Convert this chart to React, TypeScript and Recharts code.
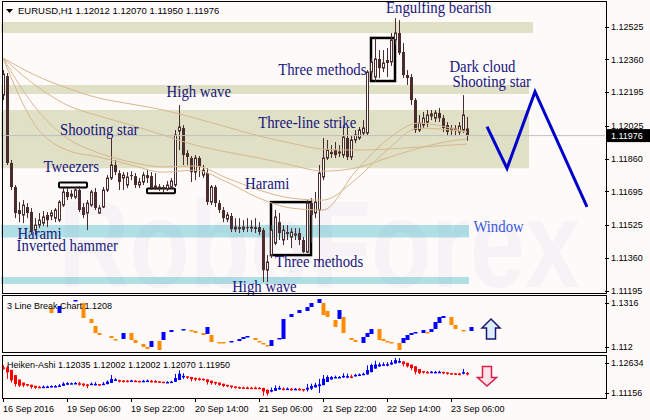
import React from 'react';
import { ComposedChart, Bar, Line, XAxis, YAxis, ReferenceArea, ReferenceLine, ReferenceDot } from 'recharts';

const BG = '#FFFAFA';
const CANDLE = '#4B2C2C';
const SANS = "'Liberation Sans', Arial, sans-serif";
const SERIF = "'Liberation Serif', 'Times New Roman', serif";
const BAND = 4;
const SLOTS = 151;

const SYMBOL = 'EURUSD,H1';
const LB_TITLE = '3 Line Break Chart 1.1208';
const HA_TITLE = 'Heiken-Ashi 1.12035 1.12002 1.12002 1.12070 1.11950';

// H1 candles, 16 Sep 14:00 .. 23 Sep 10:00
const openP = [
  1.12180, 1.12276, 1.11838, 1.11717, 1.11601, 1.11576, 1.11616, 1.11591, 1.11500, 1.11525,
  1.11535, 1.11576, 1.11571, 1.11560, 1.11550, 1.11626, 1.11692, 1.11671, 1.11666, 1.11702,
  1.11616, 1.11586, 1.11626, 1.11692, 1.11586, 1.11616, 1.11702, 1.11762, 1.11828, 1.11787,
  1.11762, 1.11727, 1.11777, 1.11772, 1.11727, 1.11742, 1.11777, 1.11772, 1.11712, 1.11712,
  1.11717, 1.11707, 1.11717, 1.11727, 1.11999, 1.12014, 1.11888, 1.11863, 1.11792, 1.11863,
  1.11777, 1.11787, 1.11641, 1.11717, 1.11636, 1.11601, 1.11555, 1.11571, 1.11505, 1.11515,
  1.11505, 1.11515, 1.11510, 1.11515, 1.11515, 1.11500, 1.11298, 1.11374, 1.11434, 1.11540,
  1.11450, 1.11490, 1.11465, 1.11475, 1.11485, 1.11450, 1.11389, 1.11636, 1.11586, 1.11601,
  1.11767, 1.11863, 1.11893, 1.11903, 1.11888, 1.11878, 1.11964, 1.11868, 1.11954, 1.11964,
  1.11989, 1.11989, 1.12296, 1.12271, 1.12362, 1.12316, 1.12357, 1.12347, 1.12458, 1.12493,
  1.12397, 1.12281, 1.12271, 1.12155, 1.12004, 1.12029, 1.12044, 1.12075, 1.12064, 1.12090,
  1.12064, 1.12029, 1.12014, 1.12004, 1.11994, 1.12004, 1.12012,
];
const highP = [
  1.12306, 1.12291, 1.11853, 1.11727, 1.11641, 1.11651, 1.11636, 1.11611, 1.11560, 1.11586,
  1.11596, 1.11591, 1.11601, 1.11611, 1.11651, 1.11712, 1.11712, 1.11702, 1.11717, 1.11722,
  1.11636, 1.11651, 1.11702, 1.11712, 1.11626, 1.11717, 1.11777, 1.11964, 1.11853, 1.11802,
  1.11792, 1.11792, 1.11797, 1.11787, 1.11762, 1.11792, 1.11802, 1.11792, 1.11787, 1.11732,
  1.11727, 1.11747, 1.11762, 1.12004, 1.12130, 1.12029, 1.11903, 1.11873, 1.11878, 1.11873,
  1.11828, 1.11812, 1.11727, 1.11727, 1.11651, 1.11616, 1.11591, 1.11586, 1.11560, 1.11560,
  1.11550, 1.11560, 1.11550, 1.11560, 1.11540, 1.11510, 1.11374, 1.11525, 1.11601, 1.11586,
  1.11525, 1.11525, 1.11510, 1.11510, 1.11510, 1.11465, 1.11651, 1.11661, 1.11692, 1.11828,
  1.11964, 1.11954, 1.11928, 1.11944, 1.11928, 1.12029, 1.12014, 1.11979, 1.12004, 1.12019,
  1.12054, 1.12306, 1.12367, 1.12468, 1.12407, 1.12407, 1.12417, 1.12493, 1.12568, 1.12558,
  1.12442, 1.12306, 1.12286, 1.12165, 1.12080, 1.12095, 1.12105, 1.12105, 1.12105, 1.12115,
  1.12080, 1.12044, 1.12029, 1.12029, 1.12044, 1.12180, 1.12070,
];
const lowP = [
  1.12155, 1.11828, 1.11702, 1.11560, 1.11540, 1.11535, 1.11560, 1.11480, 1.11475, 1.11510,
  1.11520, 1.11515, 1.11550, 1.11540, 1.11540, 1.11616, 1.11651, 1.11656, 1.11656, 1.11591,
  1.11560, 1.11500, 1.11616, 1.11601, 1.11581, 1.11611, 1.11692, 1.11752, 1.11777, 1.11702,
  1.11702, 1.11712, 1.11752, 1.11712, 1.11712, 1.11727, 1.11737, 1.11702, 1.11702, 1.11697,
  1.11686, 1.11697, 1.11707, 1.11717, 1.11903, 1.11828, 1.11828, 1.11742, 1.11752, 1.11767,
  1.11762, 1.11626, 1.11626, 1.11616, 1.11586, 1.11540, 1.11540, 1.11490, 1.11490, 1.11485,
  1.11490, 1.11490, 1.11490, 1.11485, 1.11475, 1.11238, 1.11238, 1.11359, 1.11424, 1.11450,
  1.11424, 1.11450, 1.11409, 1.11450, 1.11424, 1.11384, 1.11384, 1.11434, 1.11560, 1.11334,
  1.11752, 1.11853, 1.11863, 1.11863, 1.11868, 1.11863, 1.11853, 1.11853, 1.11938, 1.11954,
  1.11974, 1.11979, 1.12256, 1.12246, 1.12266, 1.12296, 1.12271, 1.12327, 1.12432, 1.12382,
  1.12266, 1.12231, 1.12130, 1.11989, 1.11994, 1.12014, 1.12019, 1.12054, 1.12044, 1.12044,
  1.11994, 1.11974, 1.11979, 1.11974, 1.11979, 1.11989, 1.11950,
];
const closeP = [
  1.12286, 1.11838, 1.11717, 1.11586, 1.11581, 1.11626, 1.11586, 1.11495, 1.11525, 1.11550,
  1.11566, 1.11550, 1.11586, 1.11601, 1.11641, 1.11692, 1.11666, 1.11681, 1.11702, 1.11601,
  1.11576, 1.11636, 1.11692, 1.11611, 1.11611, 1.11702, 1.11762, 1.11828, 1.11792, 1.11742,
  1.11777, 1.11767, 1.11772, 1.11727, 1.11742, 1.11777, 1.11762, 1.11712, 1.11722, 1.11717,
  1.11707, 1.11727, 1.11747, 1.11979, 1.12019, 1.11878, 1.11868, 1.11792, 1.11863, 1.11818,
  1.11802, 1.11641, 1.11717, 1.11636, 1.11601, 1.11560, 1.11576, 1.11505, 1.11515, 1.11505,
  1.11515, 1.11510, 1.11515, 1.11505, 1.11490, 1.11298, 1.11339, 1.11500, 1.11566, 1.11485,
  1.11500, 1.11480, 1.11490, 1.11480, 1.11450, 1.11389, 1.11636, 1.11576, 1.11641, 1.11787,
  1.11863, 1.11903, 1.11883, 1.11878, 1.11893, 1.11969, 1.11868, 1.11954, 1.11979, 1.12004,
  1.12014, 1.12296, 1.12347, 1.12362, 1.12316, 1.12342, 1.12342, 1.12458, 1.12493, 1.12392,
  1.12281, 1.12266, 1.12155, 1.12004, 1.12039, 1.12064, 1.12080, 1.12085, 1.12090, 1.12064,
  1.12014, 1.11994, 1.12004, 1.12009, 1.12024, 1.12080, 1.11976,
];

// moving averages sampled at bar indices
const maIdx = [0, 8, 16, 24, 32, 40, 48, 56, 64, 72, 80, 88, 96, 104, 112, 116];
const maA = [1.12367, 1.12281, 1.12216, 1.12165, 1.12135, 1.12105, 1.12064, 1.12019, 1.11974, 1.11938, 1.11908, 1.11903, 1.11908, 1.11918, 1.11928, 1.11933];
const maB = [1.12367, 1.12231, 1.12130, 1.12075, 1.12029, 1.11979, 1.11928, 1.11893, 1.11863, 1.11828, 1.11797, 1.11812, 1.11863, 1.11913, 1.11949, 1.11959];
const maC = [1.12367, 1.12120, 1.11964, 1.11888, 1.11843, 1.11818, 1.11823, 1.11762, 1.11702, 1.11661, 1.11651, 1.11752, 1.11903, 1.12014, 1.12004, 1.11994];
const maD = [1.12367, 1.12029, 1.11903, 1.11868, 1.11828, 1.11792, 1.11802, 1.11742, 1.11661, 1.11611, 1.11601, 1.11792, 1.11954, 1.12039, 1.12014, 1.11994];

// forecast zig-zag
const fcIdx = [121, 126, 133, 146];
const fcPrice = [1.12021, 1.11811, 1.12197, 1.11617];

// 3 line break bricks
const lbIdx = [12, 14, 18, 20, 22, 23, 24, 27, 28, 30, 32, 33, 35, 36, 37, 39, 40, 42, 45, 47, 48, 50, 51, 52, 54, 55, 57, 59, 60, 61, 63, 64, 65, 66, 67, 69, 70, 72, 74, 76, 77, 79, 80, 81, 83, 84, 85, 87, 88, 90, 91, 92, 94, 95, 96, 97, 99, 100, 101, 102, 103, 105, 106, 107, 108, 109, 110, 112, 113, 115, 117];
const lbHigh = [1.12948, 1.13038, 1.13309, 1.13174, 1.12450, 1.12134, 1.11818, 1.11682, 1.11546, 1.11818, 1.11818, 1.11501, 1.11320, 1.11185, 1.11456, 1.11456, 1.11863, 1.11953, 1.11998, 1.11953, 1.11908, 1.11818, 1.12089, 1.11727, 1.11411, 1.11411, 1.11456, 1.11546, 1.11637, 1.11682, 1.11592, 1.11456, 1.11366, 1.11275, 1.11501, 1.11592, 1.12450, 1.12676, 1.12857, 1.12993, 1.13174, 1.13354, 1.13174, 1.12812, 1.12405, 1.12857, 1.12541, 1.11592, 1.11501, 1.11637, 1.11818, 1.11998, 1.11998, 1.11546, 1.11456, 1.11411, 1.11366, 1.11592, 1.11727, 1.11818, 1.11863, 1.11953, 1.11863, 1.11998, 1.12315, 1.12541, 1.12586, 1.12541, 1.12179, 1.11953, 1.12089];
const lbLow = [1.12722, 1.12722, 1.13264, 1.12496, 1.12270, 1.11818, 1.11727, 1.11592, 1.11501, 1.11546, 1.11501, 1.11366, 1.11185, 1.11094, 1.11185, 1.11049, 1.11501, 1.11863, 1.11953, 1.11908, 1.11818, 1.11727, 1.11772, 1.11411, 1.11366, 1.11366, 1.11411, 1.11456, 1.11546, 1.11637, 1.11501, 1.11411, 1.11320, 1.11230, 1.11230, 1.11546, 1.11546, 1.12541, 1.12722, 1.12812, 1.12993, 1.13174, 1.12631, 1.12541, 1.12089, 1.12450, 1.11818, 1.11501, 1.11411, 1.11366, 1.11637, 1.11772, 1.11501, 1.11456, 1.11411, 1.11366, 1.11049, 1.11366, 1.11501, 1.11727, 1.11818, 1.11818, 1.11818, 1.11863, 1.11998, 1.12270, 1.12496, 1.12179, 1.11998, 1.11908, 1.11908];
const lbDir = ['d', 'u', 'u', 'd', 'd', 'd', 'd', 'd', 'd', 'u', 'd', 'd', 'd', 'd', 'u', 'd', 'u', 'u', 'u', 'd', 'd', 'd', 'u', 'd', 'd', 'd', 'u', 'u', 'u', 'u', 'd', 'd', 'd', 'd', 'u', 'u', 'u', 'u', 'u', 'u', 'u', 'u', 'd', 'd', 'd', 'u', 'd', 'd', 'd', 'u', 'u', 'u', 'd', 'd', 'd', 'd', 'd', 'u', 'u', 'u', 'u', 'u', 'd', 'u', 'u', 'u', 'u', 'd', 'd', 'd', 'u'];

// signal arrows [bar, value]
const lbSignal = [122, 1.11998];
const haSignal = [121, 1.11912];

// axes
const xTickIdx = [0, 16, 32, 48, 64, 80, 96, 112];
const xTickLabels = ['16 Sep 2016', '19 Sep 06:00', '19 Sep 22:00', '20 Sep 14:00', '21 Sep 06:00', '21 Sep 22:00', '22 Sep 14:00', '23 Sep 06:00'];
const priceTicks = [1.12525, 1.12360, 1.12195, 1.12025, 1.11860, 1.11695, 1.11525, 1.11360, 1.11195];
const lbTicks = [1.1316, 1.112];
const haTicks = [1.12634, 1.11156];

// zones
const khakiZones = [
  { to: 132, lo: 1.12493, hi: 1.12548 },
  { to: 131, lo: 1.12185, hi: 1.12231 },
  { to: 131, lo: 1.11812, hi: 1.12105 },
];
const cyanZones = [
  { to: 116, lo: 1.11462, hi: 1.11525 },
  { to: 116, lo: 1.11228, hi: 1.11263 },
];
const boxes = [
  { from: 92, to: 98, lo: 1.12251, hi: 1.12468, small: false },
  { from: 67, to: 77, lo: 1.11374, hi: 1.11641, small: false },
  { from: 14, to: 21, lo: 1.11715, hi: 1.11740, small: true },
  { from: 36, to: 43, lo: 1.11685, hi: 1.11710, small: true },
];
const annotations = [
  { text: 'Engulfing bearish', bar: 95.75, price: 1.12594, light: false },
  { text: 'Three methods', bar: 68.8, price: 1.12281, light: false },
  { text: 'Dark cloud', bar: 111.6, price: 1.12298, light: false },
  { text: 'Shooting star', bar: 112.4, price: 1.12219, light: false },
  { text: 'High wave', bar: 40.9, price: 1.12169, light: false },
  { text: 'Shooting star', bar: 14.25, price: 1.11979, light: false },
  { text: 'Three-line strike', bar: 63.8, price: 1.12013, light: false },
  { text: 'Tweezers', bar: 10.1, price: 1.11791, light: false },
  { text: 'Harami', bar: 60.5, price: 1.11707, light: false },
  { text: 'Window', bar: 117.6, price: 1.11491, light: true },
  { text: 'Harami', bar: 3.6, price: 1.11455, light: false },
  { text: 'Inverted hammer', bar: 3.4, price: 1.11394, light: false },
  { text: 'Three methods', bar: 68, price: 1.11312, light: false },
  { text: 'High wave', bar: 57.3, price: 1.11189, light: false },
];

// ---------- tables built from the arrays ----------
const rows: any[] = Array.from({ length: SLOTS }, (_, i) => ({ i }));
openP.forEach((o, i) => {
  Object.assign(rows[i], { o, h: highP[i], l: lowP[i], c: closeP[i], range: [lowP[i], highP[i]] });
});
maIdx.forEach((idx, k) => Object.assign(rows[idx], { maA: maA[k], maB: maB[k], maC: maC[k], maD: maD[k] }));
fcIdx.forEach((idx, k) => { rows[idx].fc = fcPrice[k]; });

const lbRows: any[] = Array.from({ length: SLOTS }, (_, i) => ({ i }));
lbIdx.forEach((idx, k) => Object.assign(lbRows[idx], { lbRange: [lbLow[k], lbHigh[k]], lbUp: lbDir[k] === 'u' }));

const haRows: any[] = Array.from({ length: SLOTS }, (_, i) => ({ i }));
let pO = 0;
let pC = 0;
openP.forEach((o, i) => {
  const h = highP[i], l = lowP[i], c = closeP[i];
  const hc = (o + h + l + c) / 4;
  const ho = i === 0 ? (o + c) / 2 : (pO + pC) / 2;
  const hh = Math.max(h, ho, hc);
  const hl = Math.min(l, ho, hc);
  Object.assign(haRows[i], { ho, hc, hh, hl, haRange: [hl, hh] });
  pO = ho;
  pC = hc;
});

// ---------- shapes ----------
const CandleShape = (props: any) => {
  const { x, y, width, height, payload } = props;
  if (!payload || payload.o == null || x == null) return null;
  const cx = Math.round(x + width / 2);
  const top = Math.min(y, y + height);
  const bottom = Math.max(y, y + height);
  const { o, c, h, l } = payload;
  const span = h - l || 1e-9;
  const py = (v: number) => top + ((h - v) / span) * (bottom - top);
  const bTop = py(Math.max(o, c));
  const bBot = py(Math.min(o, c));
  const bull = c >= o;
  return (
    <g>
      <line x1={cx + 0.5} x2={cx + 0.5} y1={top} y2={bottom} stroke={CANDLE} strokeWidth={1} />
      {bull ? (
        <rect x={cx - 0.5} y={bTop} width={2} height={Math.max(bBot - bTop, 1)} fill={BG} stroke={CANDLE} strokeWidth={1} />
      ) : (
        <rect x={cx - 1} y={bTop} width={3} height={Math.max(bBot - bTop, 1)} fill={CANDLE} />
      )}
    </g>
  );
};

const BrickShape = (props: any) => {
  const { x, y, width, height, payload } = props;
  if (!payload || !payload.lbRange || x == null) return null;
  const top = Math.min(y, y + height);
  const hgt = Math.max(Math.abs(height), 1.5);
  const cx = Math.round(x + width / 2);
  return <rect x={cx - 1.5} y={top} width={4} height={hgt} fill={payload.lbUp ? '#0000FF' : '#FF8C00'} />;
};

const HAShape = (props: any) => {
  const { x, y, width, height, payload } = props;
  if (!payload || payload.ho == null || x == null) return null;
  const cx = Math.round(x + width / 2);
  const top = Math.min(y, y + height);
  const bottom = Math.max(y, y + height);
  const { ho, hc, hh, hl } = payload;
  const span = hh - hl || 1e-9;
  const py = (v: number) => top + ((hh - v) / span) * (bottom - top);
  const bTop = py(Math.max(ho, hc));
  const bBot = py(Math.min(ho, hc));
  const col = hc >= ho ? '#0000FF' : '#FF0000';
  return (
    <g>
      <line x1={cx + 0.5} x2={cx + 0.5} y1={top} y2={bottom} stroke={col} strokeWidth={1} />
      <rect x={cx - 1} y={bTop} width={3} height={Math.max(bBot - bTop, 1.5)} fill={col} />
    </g>
  );
};

// right-axis tick; edge ticks (panel max/min) are drawn inset from the panel edge like MT4
const RightTick = (props: any) => {
  const { x, y, payload, digits, edges } = props;
  const label = digits ? Number(payload.value).toFixed(digits) : String(payload.value);
  let yy = y;
  if (edges) {
    if (payload.value === edges[1]) yy = y + 7;
    if (payload.value === edges[0]) yy = y - 5;
  }
  const ly = Math.round(yy) + 0.5;
  return (
    <g>
      <line x1={x} x2={x + 4} y1={ly} y2={ly} stroke="#000" strokeWidth={1} />
      <text x={x + 6} y={yy} dy="0.35em" fontSize={9} fontFamily={SANS} fill="#000">{label}</text>
    </g>
  );
};

const BottomTick = (props: any) => {
  const { x, y, payload } = props;
  const k = xTickIdx.indexOf(payload.value);
  const tx = Math.round(x) + 0.5;
  return (
    <g>
      <line x1={tx} x2={tx} y1={y + 1} y2={y + 4} stroke="#000" strokeWidth={1} />
      <text x={x} y={y + 14} fontSize={9} fontFamily={SANS} fill="#000">{k >= 0 ? xTickLabels[k] : ''}</text>
    </g>
  );
};

const PriceTag = (props: any) => {
  const vb = props.viewBox || {};
  const x = (vb.x || 0) + (vb.width || 0) + 1;
  const y = vb.y || 0;
  return (
    <g>
      <rect x={x} y={y - 6.5} width={44} height={13} fill="#000" />
      <text x={x + 5} y={y + 3.5} fontSize={9} fontFamily={SANS} fill="#fff">{closeP[closeP.length - 1].toFixed(5)}</text>
    </g>
  );
};

const UpArrow = (p: any) => {
  const { cx, cy } = p;
  const d = `M${cx},${cy - 10} L${cx + 9},${cy - 1} L${cx + 4.5},${cy - 1} L${cx + 4.5},${cy + 10} L${cx - 4.5},${cy + 10} L${cx - 4.5},${cy - 1} L${cx - 9},${cy - 1} Z`;
  return <path d={d} fill="#DCEEFF" stroke="#1A1A70" strokeWidth={1.5} />;
};

const DownArrow = (p: any) => {
  const { cx, cy } = p;
  const d = `M${cx - 4.5},${cy - 10} L${cx + 4.5},${cy - 10} L${cx + 4.5},${cy + 1} L${cx + 9.5},${cy + 1} L${cx},${cy + 9.5} L${cx - 9.5},${cy + 1} L${cx - 4.5},${cy + 1} Z`;
  return <path d={d} fill="#FFE4EA" stroke="#D81E48" strokeWidth={1.5} />;
};

const annotationShape = (a: any) => (p: any) => {
  const dx = (a.bar - Math.floor(a.bar)) * BAND;
  return (
    <text
      transform={`translate(${p.cx + dx},${p.cy}) scale(0.87,1)`}
      x={0}
      y={0}
      fontFamily={SERIF}
      fontSize={17}
      fill={a.light ? '#3A5BE0' : '#16167A'}
    >
      {a.text}
    </text>
  );
};

const boxShape = (small: boolean) => (p: any) => (
  <rect
    x={p.x + BAND / 2}
    y={p.y}
    width={Math.max(p.width - BAND, 1)}
    height={Math.max(p.height, 1)}
    fill="none"
    stroke="#000"
    strokeWidth={small ? 2 : 2.5}
    rx={small ? 1 : 0}
  />
);

export default function App() {
  const header = `${SYMBOL}  ${openP[openP.length - 1].toFixed(5)} ${highP[highP.length - 1].toFixed(5)} ${lowP[lowP.length - 1].toFixed(5)} ${closeP[closeP.length - 1].toFixed(5)}`;
  const haDomain = [haTicks[1], haTicks[0]];
  return (
    <div style={{ position: 'fixed', left: 0, top: 0, width: 650, height: 420, background: BG, overflow: 'hidden' }}>
      <div style={{ position: 'absolute', left: 0, top: 0 }}>
        <ComposedChart width={650} height={296} data={rows} margin={{ top: 5, right: 0, bottom: 3, left: 1 }}>
          <XAxis dataKey="i" type="category" hide />
          <YAxis
            orientation="right"
            width={45}
            domain={[1.11183, 1.12634]}
            allowDataOverflow
            ticks={priceTicks}
            interval={0}
            tickSize={0}
            tickMargin={0}
            tickLine={false}
            axisLine={false}
            tick={<RightTick digits={5} />}
          />
          {khakiZones.map((z, k) => (
            <ReferenceArea key={`kz${k}`} x1={0} x2={z.to} y1={z.lo} y2={z.hi} fill="#E0E0C6" fillOpacity={1} stroke="none" />
          ))}
          {cyanZones.map((z, k) => (
            <ReferenceArea key={`cz${k}`} x1={0} x2={z.to} y1={z.lo} y2={z.hi} fill="#B0E0E6" fillOpacity={1} stroke="none" />
          ))}
          <ReferenceLine y={closeP[closeP.length - 1]} stroke="#C0C0C0" strokeWidth={1} label={(p: any) => <PriceTag {...p} />} />
          <Line dataKey="maA" type="monotone" stroke="#D6B88E" strokeWidth={1} dot={false} connectNulls isAnimationActive={false} />
          <Line dataKey="maB" type="monotone" stroke="#D6B88E" strokeWidth={1} dot={false} connectNulls isAnimationActive={false} />
          <Line dataKey="maC" type="monotone" stroke="#D6B88E" strokeWidth={1} dot={false} connectNulls isAnimationActive={false} />
          <Line dataKey="maD" type="monotone" stroke="#D6B88E" strokeWidth={1} dot={false} connectNulls isAnimationActive={false} />
          <Bar dataKey="range" barSize={4} shape={CandleShape} isAnimationActive={false} />
          {boxes.map((b, k) => (
            <ReferenceArea key={`bx${k}`} x1={b.from} x2={b.to} y1={b.lo} y2={b.hi} shape={boxShape(b.small)} />
          ))}
          <Line dataKey="fc" type="linear" stroke="#0000CC" strokeWidth={3} strokeLinejoin="miter" dot={false} connectNulls isAnimationActive={false} />
          {annotations.map((a, k) => (
            <ReferenceDot key={`an${k}`} x={Math.floor(a.bar)} y={a.price} r={1} shape={annotationShape(a)} />
          ))}
        </ComposedChart>
      </div>
      <div style={{ position: 'absolute', left: 0, top: 294 }}>
        <ComposedChart width={650} height={60} data={lbRows} margin={{ top: 2, right: 0, bottom: 2, left: 1 }}>
          <XAxis dataKey="i" type="category" hide />
          <YAxis
            orientation="right"
            width={45}
            domain={[1.10959, 1.1349]}
            allowDataOverflow
            ticks={lbTicks}
            interval={0}
            tickSize={0}
            tickMargin={0}
            tickLine={false}
            axisLine={false}
            tick={<RightTick />}
          />
          <Bar dataKey="lbRange" barSize={4} shape={BrickShape} isAnimationActive={false} />
          <ReferenceDot x={lbSignal[0]} y={lbSignal[1]} r={1} shape={UpArrow} />
        </ComposedChart>
      </div>
      <div style={{ position: 'absolute', left: 0, top: 354 }}>
        <ComposedChart width={650} height={66} data={haRows} margin={{ top: 2, right: 0, bottom: 0, left: 1 }}>
          <XAxis
            dataKey="i"
            type="category"
            height={22}
            ticks={xTickIdx}
            interval={0}
            tickSize={0}
            tickMargin={0}
            tickLine={false}
            axisLine={false}
            tick={<BottomTick />}
          />
          <YAxis
            orientation="right"
            width={45}
            domain={haDomain}
            allowDataOverflow
            ticks={haTicks}
            interval={0}
            tickSize={0}
            tickMargin={0}
            tickLine={false}
            axisLine={false}
            tick={<RightTick edges={haDomain} />}
          />
          <Bar dataKey="haRange" barSize={4} shape={HAShape} isAnimationActive={false} />
          <ReferenceDot x={haSignal[0]} y={haSignal[1]} r={1} shape={DownArrow} />
        </ComposedChart>
      </div>
      <svg width={650} height={420} style={{ position: 'absolute', left: 0, top: 0, pointerEvents: 'none' }}>
        <text x={58} y={287} fontFamily={SANS} fontWeight="bold" fontSize={125} textLength={522} lengthAdjust="spacingAndGlyphs" fill="#5A5A96" fillOpacity={0.05}>
          RoboForex
        </text>
        <rect x={2.5} y={1.5} width={604} height={292} fill="none" stroke="#000" strokeWidth={1} />
        <rect x={2.5} y={295.5} width={604} height={57} fill="none" stroke="#000" strokeWidth={1} />
        <rect x={2.5} y={355.5} width={604} height={43} fill="none" stroke="#000" strokeWidth={1} />
        <polygon points="6,9 13,9 9.5,13" fill="#000" />
        <text x={18} y={14} fontSize={9.5} fontFamily={SANS} fill="#000">{header}</text>
        <text x={7} y={308.5} fontSize={9} fontFamily={SANS} fill="#000">{LB_TITLE}</text>
        <text x={7} y={368} fontSize={9} fontFamily={SANS} fill="#000">{HA_TITLE}</text>
      </svg>
    </div>
  );
}
